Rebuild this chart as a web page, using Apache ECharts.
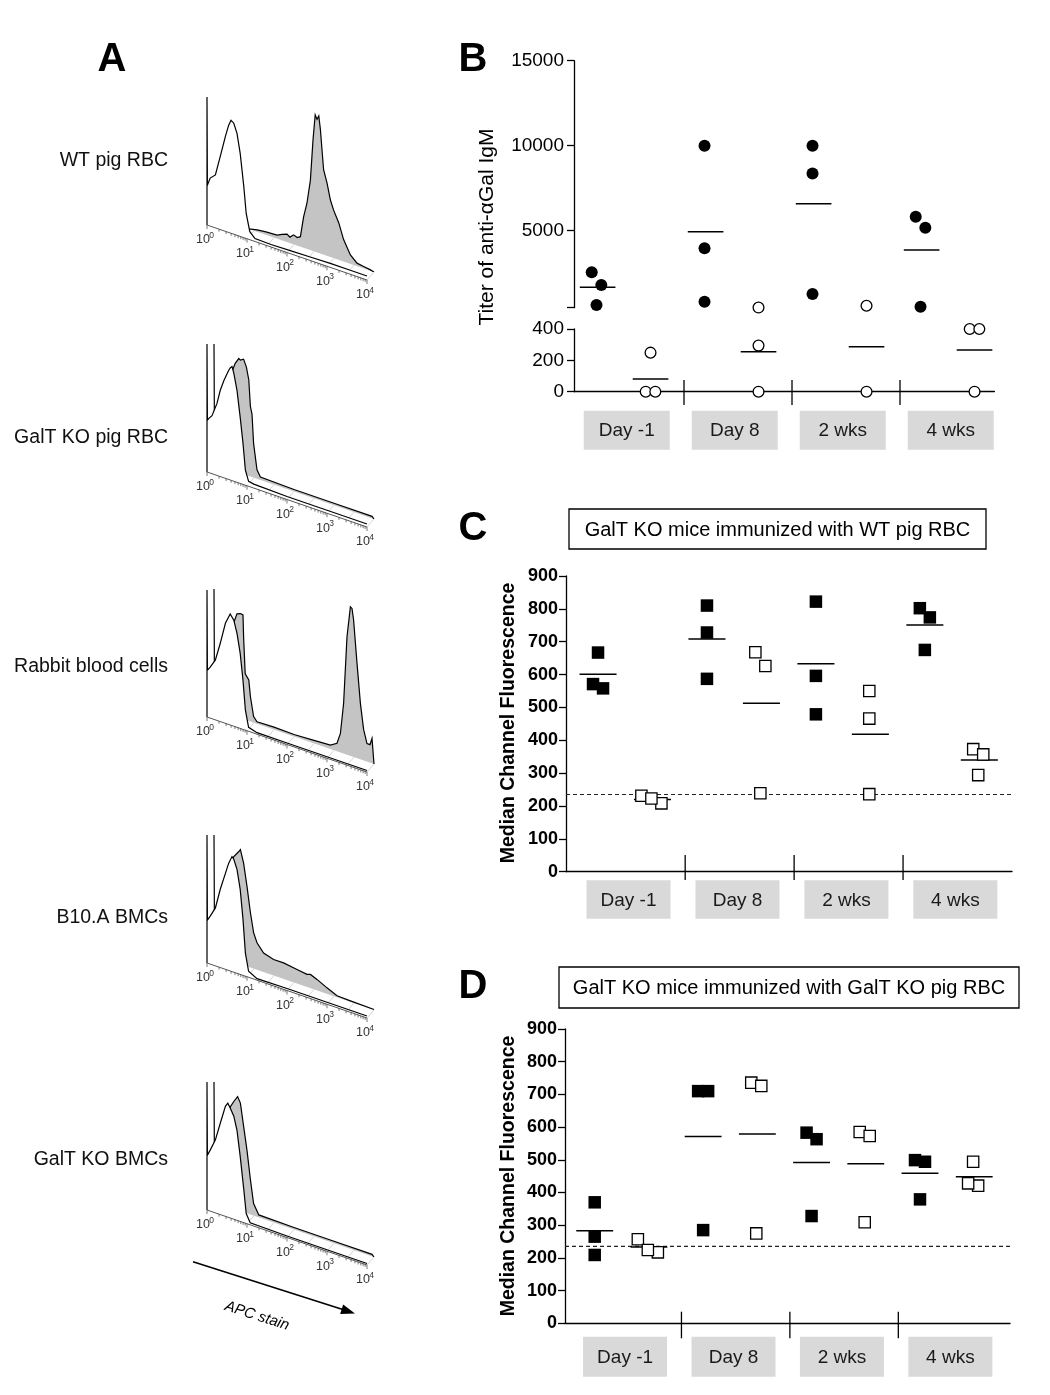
<!DOCTYPE html>
<html>
<head>
<meta charset="utf-8">
<script src="https://cdn.jsdelivr.net/npm/echarts@6/dist/echarts.min.js"></script>
<style>
html, body { margin: 0; padding: 0; background: #fff; }
#main { width: 1050px; height: 1395px; }
</style>
</head>
<body>
<div id="main"></div>
<script>
const FONT = "'Liberation Sans', Arial, sans-serif";

// ---- Panel A: overlaid flow histograms, [log10 decade, height] pairs ----
const sampleNames = ['WT pig RBC', 'GalT KO pig RBC', 'Rabbit blood cells', 'B10.A BMCs', 'GalT KO BMCs'];
const decades = [0, 1, 2, 3, 4];

const openWT = [[0,0],[0,128],[0.01,40],[0.08,48],[0.21,53],[0.33,73],[0.46,95],[0.54,107],[0.6,113],[0.67,111],[0.75,102],[0.83,83],[0.92,51],[0.98,25],[1.07,8],[1.2,3],[1.6,2.5],[2.1,3],[2.6,3.5],[3.1,4],[3.6,4],[4,4]];
const shadedWT = [[0,0],[0.87,0],[1.08,2],[1.3,3],[1.575,3.5],[1.7,6],[1.825,8],[1.9,6],[1.99,9.5],[2.08,8],[2.16,10],[2.24,31],[2.325,46],[2.41,70],[2.475,111],[2.53,137],[2.575,133],[2.62,137],[2.66,124],[2.74,85],[2.825,73],[2.91,57],[2.99,48],[3.12,37],[3.24,22],[3.41,9],[3.575,3],[3.74,2],[3.9,1],[4,0]];

const openGalT = [[0,0],[0,128],[0.01,52],[0.04,54],[0.125,58],[0.25,72],[0.33,86],[0.42,97],[0.54,109],[0.58,112],[0.625,114],[0.67,108],[0.75,92],[0.83,66],[0.9,41],[0.96,15],[1.04,5],[1.17,4],[2,3],[3,3],[4,3]];
const shadedGalT = [[0,0],[0,120],[0.01,40],[0.15,50],[0.3,70],[0.42,95],[0.53,108],[0.62,114],[0.66,113],[0.74,115],[0.81,108],[0.87,96],[0.91,70],[0.95,63],[0.99,34],[1.075,9],[1.16,3],[2,2],[3,2],[3.95,2],[4,0]];

const openRab = [[0,0],[0,127],[0.01,47],[0.08,51],[0.21,60],[0.33,78],[0.46,100],[0.58,111],[0.67,106],[0.75,94],[0.83,75],[0.9,49],[0.96,20],[1.04,4],[1.25,1.5],[2,1.5],[3,1.5],[4,1.5]];
const shadedRab = [[0,0],[0,120],[0.01,40],[0.2,52],[0.35,70],[0.45,88],[0.575,103],[0.66,104.5],[0.725,104],[0.74,82],[0.78,46],[0.87,41],[0.91,25],[0.99,6],[1.075,2],[1.5,2.5],[2,2],[2.5,3],[2.91,4],[3.075,8],[3.16,19],[3.24,50],[3.325,118],[3.41,149],[3.45,148],[3.49,137],[3.575,95],[3.66,56],[3.74,31],[3.825,18],[3.9,18],[3.95,25],[4,0]];

const openB10 = [[0,0],[0,128],[0.01,43],[0.08,48],[0.21,58],[0.33,78],[0.46,96],[0.54,107],[0.625,115],[0.67,113],[0.75,104],[0.83,85],[0.9,56],[0.96,23],[1.04,6],[1.25,1.5],[2,2],[3,2],[4,2]];
const shadedB10 = [[0,0],[0,120],[0.01,38],[0.15,45],[0.3,65],[0.4,88],[0.49,105],[0.62,112],[0.66,114.5],[0.74,102],[0.825,80],[0.91,55],[0.99,36],[1.075,27],[1.24,19],[1.49,16],[1.74,16],[2.075,14],[2.325,12.6],[2.41,13.7],[2.575,11],[2.825,6],[3.075,1.5],[3.41,1],[4,0.5]];

const openKOB = [[0,0],[0,128],[0.01,55],[0.08,61],[0.21,73],[0.33,91],[0.46,110],[0.52,114],[0.58,110],[0.67,103],[0.75,90],[0.83,65],[0.92,33],[0.98,10],[1.08,2],[2,1.5],[3,1.5],[4,1.5]];
const shadedKOB = [[0,0],[0,120],[0.01,45],[0.15,55],[0.3,80],[0.41,101],[0.49,107],[0.59,113.5],[0.66,108],[0.74,86],[0.825,63],[0.91,35],[0.99,12],[1.12,2.5],[2,2],[3,2],[3.95,2],[4,0]];

// ---- Panels B-D ----
const timepoints = ['Day -1', 'Day 8', '2 wks', '4 wks'];

const titerImmune = [[2553, 1806, 629], [10000, 3962, 820], [10000, 8371, 1271], [5821, 5172, 527]];
const titerNaive = [[249, 0, 0], [480, 294, 0], [585, 0], [400, 400, 0]];
const titerImmuneMean = [1680, 4940, 6590, 3860];
const titerNaiveMean = [81, 255, 287, 266];
const titerTicksHigh = [5000, 10000, 15000];
const TITER_BREAK = 470;

const mfiWtFilled = [[667, 558, 571], [810, 728, 587], [822, 596, 479], [802, 774, 675]];
const mfiWtOpen = [[231, 208, 223], [668, 626, 239], [550, 466, 236], [373, 357, 294]];
const mfiWtFilledMean = [601, 708, 633, 751];
const mfiWtOpenMean = [220, 513, 418, 340];

const mfiKoFilled = [[370, 265, 209], [710, 710, 285], [583, 563, 328], [499, 494, 379]];
const mfiKoOpen = [[257, 217, 224], [736, 726, 275], [585, 573, 309], [494, 421, 428]];
const mfiKoFilledMean = [283, 571, 492, 459];
const mfiKoOpenMean = [233, 579, 488, 448];

const mfiBackground = 235;

// ---------------------------------------------------------------
const histOpen = [openWT, openGalT, openRab, openB10, openKOB];
const histShaded = [shadedWT, shadedGalT, shadedRab, shadedB10, shadedKOB];
const histBase = [225, 472, 717, 963, 1210];
const SKEW = 13.75;          // slanted axis drop per decade
const BACK_DX = 7, BACK_DY = -8;

function histSeries(i, openPts, backPts) {
  return {
    type: 'custom', xAxisIndex: i, yAxisIndex: i, data: [[0, 0]], clip: false, silent: true,
    renderItem: function (params, api) {
      const P = (d, v, back) => {
        const c = api.coord([d, v]);
        return back ? [c[0] + BACK_DX, c[1] + d * SKEW + BACK_DY] : [c[0], c[1] + d * SKEW];
      };
      const backLine = backPts.map(p => P(p[0], p[1], true));
      const openLine = openPts.map(p => P(p[0], p[1], false));
      const kids = [];
      kids.push({ type: 'polygon', shape: { points: [P(0, 0, true)].concat(backLine, [P(4, 0, true)]) }, style: { fill: '#c4c4c4' } });
      kids.push({ type: 'polyline', shape: { points: backLine.slice(1) }, style: { stroke: '#000', lineWidth: 1.2, fill: 'none' } });
      for (let t = 0.5; t <= 4; t += 0.5) {
        const a = P(t, 0, false), b = P(t, 0, true);
        kids.push({ type: 'line', shape: { x1: a[0], y1: a[1], x2: b[0], y2: b[1] }, style: { stroke: '#d4d4d4', lineWidth: 1 } });
      }
      kids.push({ type: 'polygon', shape: { points: [P(0, 0, false)].concat(openLine, [P(4, 0, false)]) }, style: { fill: '#fff' } });
      kids.push({ type: 'polyline', shape: { points: openLine }, style: { stroke: '#000', lineWidth: 1.2, fill: 'none' } });
      // slanted log axis
      const a0 = P(0, 0, false), a1 = P(4, 0, false);
      kids.push({ type: 'line', shape: { x1: a0[0], y1: a0[1], x2: a1[0], y2: a1[1] }, style: { stroke: '#555', lineWidth: 1 } });
      for (let d = 0; d < 4; d++) {
        for (let m = 2; m <= 9; m++) {
          const q = P(d + Math.log10(m), 0, false);
          kids.push({ type: 'line', shape: { x1: q[0], y1: q[1], x2: q[0], y2: q[1] + 2.5 }, style: { stroke: '#555', lineWidth: 0.8 } });
        }
      }
      decades.forEach(d => {
        const q = P(d, 0, false);
        kids.push({ type: 'line', shape: { x1: q[0], y1: q[1], x2: q[0], y2: q[1] + 4 }, style: { stroke: '#555', lineWidth: 0.8 } });
        kids.push({ type: 'text', style: { text: '10', x: q[0] - 4, y: q[1] + 15, align: 'center', verticalAlign: 'middle', fontSize: 12.5, fontFamily: FONT, fill: '#333' } });
        kids.push({ type: 'text', style: { text: String(d), x: q[0] + 4.5, y: q[1] + 10.5, align: 'center', verticalAlign: 'middle', fontSize: 8.5, fontFamily: FONT, fill: '#333' } });
      });
      return { type: 'group', children: kids };
    }
  };
}

function spreadOffsets(ys, size) {
  const order = ys.map((y, j) => j).sort((a, b) => ys[a] - ys[b]);
  const out = ys.map(() => 0);
  let run = [order[0]];
  const flush = () => run.forEach((j, n) => { out[j] = (n - (run.length - 1) / 2) * size * 0.8; });
  for (let n = 1; n < order.length; n++) {
    if (ys[order[n]] - ys[order[n - 1]] < size * 1.3) run.push(order[n]);
    else { flush(); run = [order[n]]; }
  }
  flush();
  return out;
}

function dotSeries(groups, keep, off, shape, filled, size, ax) {
  const data = [];
  groups.forEach((g, k) => g.forEach((v, i) => { if (keep(v)) data.push([k + off, v, k, i]); }));
  return {
    type: 'custom', xAxisIndex: ax, yAxisIndex: ax, clip: false, silent: true, z: 5, data: data,
    renderItem: function (params, api) {
      const x = api.value(0), k = api.value(2), i = api.value(3);
      const members = [];
      groups[k].forEach((v, j) => { if (keep(v)) members.push(j); });
      const ys = members.map(j => api.coord([x, groups[k][j]])[1]);
      const dx = spreadOffsets(ys, size)[members.indexOf(i)];
      const c = api.coord([x, api.value(1)]);
      const cx = c[0] + dx, cy = c[1];
      const style = { fill: filled ? '#000' : '#fff', stroke: '#000', lineWidth: filled ? 0 : 1.3 };
      if (shape === 'circle') return { type: 'circle', shape: { cx: cx, cy: cy, r: filled ? size / 2 : size / 2 - 0.6 }, style: style };
      const s = filled ? size : size - 1.2;
      return { type: 'rect', shape: { x: cx - s / 2, y: cy - s / 2, width: s, height: s }, style: style };
    }
  };
}

function meanSeries(means, keep, off, halfW, ax) {
  const data = [];
  means.forEach((m, k) => { if (keep(m)) data.push([k + off, m]); });
  return {
    type: 'custom', xAxisIndex: ax, yAxisIndex: ax, clip: false, silent: true, z: 4, data: data,
    renderItem: function (params, api) {
      const a = api.coord([api.value(0) - halfW, api.value(1)]);
      const b = api.coord([api.value(0) + halfW, api.value(1)]);
      return { type: 'line', shape: { x1: a[0], y1: a[1], x2: b[0], y2: b[1] }, style: { stroke: '#000', lineWidth: 1.5 } };
    }
  };
}

function sepSeries(ax, up, down) {
  return {
    type: 'custom', xAxisIndex: ax, yAxisIndex: ax, clip: false, silent: true, z: 3,
    data: [[1, 0], [2, 0], [3, 0]],
    renderItem: function (params, api) {
      const c = api.coord([api.value(0), api.value(1)]);
      return { type: 'line', shape: { x1: c[0], y1: c[1] - up, x2: c[0], y2: c[1] + down }, style: { stroke: '#000', lineWidth: 1.3 } };
    }
  };
}

function boxSeries(ax, off, gap, w, h) {
  return {
    type: 'custom', xAxisIndex: ax, yAxisIndex: ax, clip: false, silent: true, z: 3,
    data: timepoints.map((t, k) => [k + off, 0]),
    renderItem: function (params, api) {
      const c = api.coord([api.value(0), api.value(1)]);
      return {
        type: 'group', children: [
          { type: 'rect', shape: { x: c[0] - w / 2, y: c[1] + gap, width: w, height: h }, style: { fill: '#d9d9d9' } },
          { type: 'text', style: { text: timepoints[params.dataIndex], x: c[0], y: c[1] + gap + h / 2 + 1, align: 'center', verticalAlign: 'middle', fontSize: 19, fontFamily: FONT, fill: '#1a1a1a' } }
        ]
      };
    }
  };
}

const black = { color: '#000', width: 1.3 };
const plain = v => String(v);
const grids = [], xAxes = [], yAxes = [], series = [];

histBase.forEach((base, i) => {
  grids.push({ left: 207, top: base - 160, width: 160, height: 160 });
  xAxes.push({ gridIndex: i, type: 'value', min: 0, max: 4, show: false });
  yAxes.push({ gridIndex: i, type: 'value', min: 0, max: 160, show: false });
  series.push(histSeries(i, histOpen[i], histShaded[i]));
});

// B: broken titer axis (grid 5 upper, grid 6 lower)
grids.push({ left: 574, top: 60.7, width: 420.4, height: 247 });
grids.push({ left: 574, top: 329, width: 420.4, height: 62.7 });
xAxes.push({ gridIndex: 5, type: 'value', min: -0.0185, max: 3.874, show: false });
xAxes.push({ gridIndex: 6, type: 'value', min: -0.0185, max: 3.874, axisLine: { onZero: false, lineStyle: black }, axisTick: { show: false }, axisLabel: { show: false }, splitLine: { show: false } });
yAxes.push({
  gridIndex: 5, type: 'value', min: TITER_BREAK, max: 15000,
  axisLine: { show: true, onZero: false, lineStyle: black },
  axisTick: { show: true, length: 7, customValues: [TITER_BREAK].concat(titerTicksHigh), lineStyle: black },
  axisLabel: { customValues: titerTicksHigh, formatter: plain, fontSize: 19, fontFamily: FONT, color: '#000', margin: 10 },
  splitLine: { show: false }
});
yAxes.push({
  gridIndex: 6, type: 'value', min: 0, max: 400, interval: 200,
  axisLine: { show: true, onZero: false, lineStyle: black },
  axisTick: { show: true, length: 7, lineStyle: black },
  axisLabel: { formatter: plain, fontSize: 19, fontFamily: FONT, color: '#000', margin: 10 },
  splitLine: { show: false }
});
const hi = v => v >= TITER_BREAK, lo = v => v < TITER_BREAK;
series.push(
  dotSeries(titerImmune, hi, 0.19, 'circle', true, 12, 5),
  dotSeries(titerImmune, lo, 0.19, 'circle', true, 12, 6),
  dotSeries(titerNaive, hi, 0.69, 'circle', false, 12, 5),
  dotSeries(titerNaive, lo, 0.69, 'circle', false, 12, 6),
  meanSeries(titerImmuneMean, hi, 0.2, 0.165, 5),
  meanSeries(titerImmuneMean, lo, 0.2, 0.165, 6),
  meanSeries(titerNaiveMean, hi, 0.69, 0.165, 5),
  meanSeries(titerNaiveMean, lo, 0.69, 0.165, 6),
  sepSeries(6, 11.7, 13.3),
  boxSeries(6, 0.47, 19, 86, 39)
);

// C and D: median channel fluorescence
function mfiPanel(ax, layout, filled, open, filledMean, openMean) {
  grids.push({ left: layout.left, top: layout.top, width: layout.width, height: layout.height });
  xAxes.push({ gridIndex: ax, type: 'value', min: layout.min, max: layout.max, axisLine: { onZero: false, lineStyle: black }, axisTick: { show: false }, axisLabel: { show: false }, splitLine: { show: false } });
  yAxes.push({
    gridIndex: ax, type: 'value', min: 0, max: 900, interval: 100,
    axisLine: { show: true, onZero: false, lineStyle: black },
    axisTick: { show: true, length: 7, lineStyle: black },
    axisLabel: { formatter: plain, fontSize: 18, fontWeight: 'bold', fontFamily: FONT, color: '#000', margin: 8 },
    splitLine: { show: false }
  });
  const all = () => true;
  series.push(
    { type: 'line', xAxisIndex: ax, yAxisIndex: ax, data: [[layout.min, mfiBackground], [layout.max, mfiBackground]], symbol: 'none', silent: true, z: 2, lineStyle: { color: '#222', width: 1.2, type: [4, 3] } },
    dotSeries(filled, all, 0.2, 'square', true, 12.5, ax),
    dotSeries(open, all, 0.69, 'square', false, 12.5, ax),
    meanSeries(filledMean, all, 0.2, 0.17, ax),
    meanSeries(openMean, all, 0.7, 0.17, ax),
    sepSeries(ax, layout.up, layout.down),
    boxSeries(ax, 0.48, layout.gap, 84, layout.boxH)
  );
}
mfiPanel(7, { left: 566, top: 576, width: 446, height: 295.7, min: -0.094, max: 4.0, up: 16.7, down: 8.3, gap: 8.5, boxH: 38.5 },
  mfiWtFilled, mfiWtOpen, mfiWtFilledMean, mfiWtOpenMean);
mfiPanel(8, { left: 565, top: 1029, width: 445, height: 294.3, min: -0.074, max: 4.03, up: 11.6, down: 15, gap: 13.5, boxH: 40 },
  mfiKoFilled, mfiKoOpen, mfiKoFilledMean, mfiKoOpenMean);

// ---- static text and annotations ----
const graphic = [];
[['A', 112, 60], ['B', 473, 60], ['C', 473, 529], ['D', 473, 987]].forEach(l => {
  graphic.push({ type: 'text', x: l[1], y: l[2], style: { text: l[0], fontSize: 40, fontWeight: 'bold', fontFamily: FONT, fill: '#000', align: 'center', verticalAlign: 'middle' } });
});
const nameY = [161, 438, 667, 918, 1160];
sampleNames.forEach((n, i) => {
  graphic.push({ type: 'text', x: 168, y: nameY[i], style: { text: n, fontSize: 19.5, fontFamily: FONT, fill: '#111', align: 'right', verticalAlign: 'middle' } });
});
graphic.push({ type: 'text', x: 487, y: 227, rotation: Math.PI / 2, style: { text: 'Titer of anti-\u03B1Gal IgM', fontSize: 21, fontFamily: FONT, fill: '#000', align: 'center', verticalAlign: 'middle' } });
graphic.push({ type: 'text', x: 508.5, y: 723, rotation: Math.PI / 2, style: { text: 'Median Channel Fluorescence', fontSize: 19.5, fontWeight: 'bold', fontFamily: FONT, fill: '#000', align: 'center', verticalAlign: 'middle' } });
graphic.push({ type: 'text', x: 508.5, y: 1176, rotation: Math.PI / 2, style: { text: 'Median Channel Fluorescence', fontSize: 19.5, fontWeight: 'bold', fontFamily: FONT, fill: '#000', align: 'center', verticalAlign: 'middle' } });
[[569, 509, 417, 40, 'GalT KO mice immunized with WT pig RBC'], [559, 967, 460, 41, 'GalT KO mice immunized with GalT KO pig RBC']].forEach(b => {
  graphic.push({ type: 'rect', shape: { x: b[0], y: b[1], width: b[2], height: b[3] }, style: { fill: '#fff', stroke: '#000', lineWidth: 1.3 } });
  graphic.push({ type: 'text', x: b[0] + b[2] / 2, y: b[1] + b[3] / 2 + 1, style: { text: b[4], fontSize: 20, fontFamily: FONT, fill: '#000', align: 'center', verticalAlign: 'middle' } });
});
// APC stain arrow
(function () {
  const x1 = 193, y1 = 1261.7, tx = 355, ty = 1313.5;
  const len = Math.hypot(tx - x1, ty - y1), ux = (tx - x1) / len, uy = (ty - y1) / len;
  const bx = tx - 14 * ux, by = ty - 14 * uy;
  graphic.push({ type: 'line', shape: { x1: x1, y1: y1, x2: bx + ux * 2, y2: by + uy * 2 }, style: { stroke: '#000', lineWidth: 1.6 } });
  graphic.push({ type: 'polygon', shape: { points: [[tx, ty], [bx - 5 * uy, by + 5 * ux], [bx + 5 * uy, by - 5 * ux]] }, style: { fill: '#000' } });
  graphic.push({ type: 'text', x: 257, y: 1316, rotation: -Math.atan2(ty - y1, tx - x1), style: { text: 'APC stain', fontSize: 15, fontStyle: 'italic', fontFamily: FONT, fill: '#000', align: 'center', verticalAlign: 'middle' } });
})();

const chart = echarts.init(document.getElementById('main'), null, { renderer: 'canvas' });
chart.setOption({
  backgroundColor: '#fff',
  animation: false,
  grid: grids,
  xAxis: xAxes,
  yAxis: yAxes,
  series: series,
  graphic: graphic
});
</script>
</body>
</html>
